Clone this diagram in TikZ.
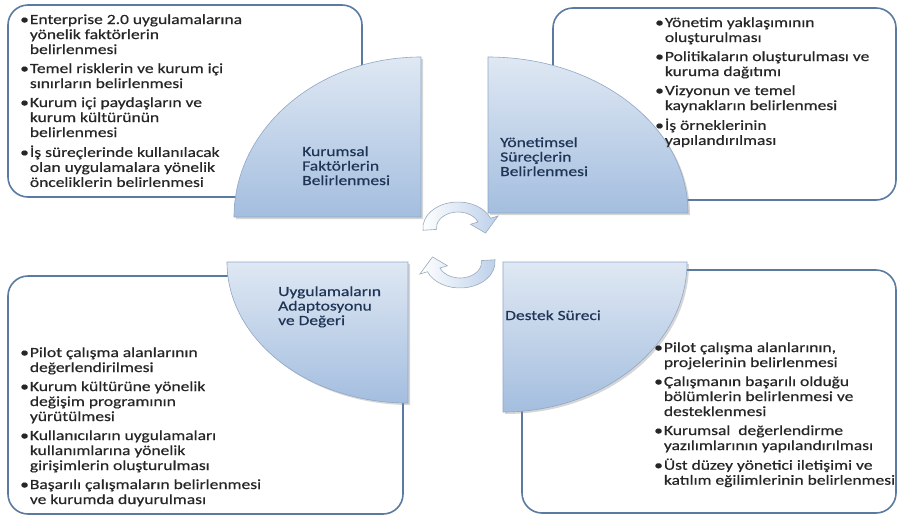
\documentclass[tikz,border=0pt]{standalone}
\usepackage{fontspec}
\setmainfont{Carlito}[FakeStretch=1.25,FakeBold=0.5]
\usetikzlibrary{shadows}
\definecolor{boxc}{HTML}{5A7AA2}
\definecolor{sectop}{HTML}{DFE8F3}
\definecolor{secbot}{HTML}{A4BEDF}
\definecolor{secb}{HTML}{8FA8C6}
\definecolor{txtc}{HTML}{262626}
\definecolor{stc}{HTML}{1F3556}
\definecolor{arrc}{HTML}{BCD0EA}
\definecolor{arrb}{HTML}{9AAABC}
\newcommand\bu{\textbullet}
\begin{document}
\begin{tikzpicture}[x=1pt,y=-1pt,
  box/.style={draw=boxc, line width=1.6pt, rounded corners=20pt, fill=white},
  sector/.style={draw=secb, line width=0.6pt, top color=sectop, bottom color=secbot,
    drop shadow={shadow xshift=2pt, shadow yshift=-2pt, opacity=0.35, fill=black!45}},
  btxt/.style={anchor=base west, inner sep=0pt, text=txtc, font=\fontsize{14}{15}\selectfont},
  stxt/.style={anchor=base west, inner sep=0pt, text=stc, align=left, font=\fontsize{14}{14.5}\selectfont},
  carrow/.style={draw=arrb, line width=0.6pt, left color=white, right color=arrc}]
\useasboundingbox (0,0) rectangle (899,517);
\fill[white] (0,0) rectangle (899,517);
% boxes
\draw[box] (8,5) rectangle (362,197);
\draw[box] (553,8) rectangle (896,200);
\draw[box] (8,276) rectangle (403,514);
\draw[box] (522,270) rectangle (896,513);
% sectors
\path[sector] (421,217) -- (234,217) arc[start angle=180, end angle=270, x radius=187, y radius=160] -- cycle;
\path[sector] (488,213) -- (488,57) arc[start angle=270, end angle=360, x radius=200, y radius=156] -- cycle;
\path[sector] (408,262) -- (227,262) arc[start angle=180, end angle=90, x radius=181, y radius=141] -- cycle;
\path[sector] (503,262) -- (687,262) arc[start angle=0, end angle=90, x radius=184, y radius=150] -- cycle;
% cycle arrows
\begin{scope}[shift={(458,228)}, xscale=1.35]
\path[carrow] (175:26) arc[start angle=175, end angle=338, radius=26] -- (338:32) -- (14:21) -- (338:10) -- (338:16) arc[start angle=338, end angle=175, radius=16] -- cycle;
\end{scope}
\begin{scope}[shift={(460,262)}, xscale=1.35, rotate=180]
\path[carrow] (175:26) arc[start angle=175, end angle=338, radius=26] -- (338:32) -- (14:21) -- (338:10) -- (338:16) arc[start angle=338, end angle=175, radius=16] -- cycle;
\end{scope}
% sector titles
\node[stxt] (s1) at (302,185) {Kurumsal\\Faktörlerin\\Belirlenmesi};
\node[stxt] (s2) at (500,176) {Yönetimsel\\Süreçlerin\\Belirlenmesi};
\node[stxt] (s3) at (278,325) {Uygulamaların\\Adaptosyonu\\ve Değeri};
\node[stxt] (s4) at (505,320) {Destek Süreci};
% bullet texts
\node[btxt] (t1) at (20,24) {\begin{tabular}[t]{@{}l@{\hspace{1pt}}l@{}}
\bu & Enterprise 2.0 uygulamalarına\\ & yönelik faktörlerin\\ & belirlenmesi\\[4pt]
\bu & Temel risklerin ve kurum içi\\ & sınırların belirlenmesi\\[4pt]
\bu & Kurum içi paydaşların ve\\ & kurum kültürünün\\ & belirlenmesi\\[4pt]
\bu & İş süreçlerinde kullanılacak\\ & olan uygulamalara yönelik\\ & önceliklerin belirlenmesi
\end{tabular}};
\node[btxt] (t2) at (655,27) {\begin{tabular}[t]{@{}l@{\hspace{1pt}}l@{}}
\bu & Yönetim yaklaşımının\\ & oluşturulması\\[4pt]
\bu & Politikaların oluşturulması ve\\ & kuruma dağıtımı\\[4pt]
\bu & Vizyonun ve temel\\ & kaynakların belirlenmesi\\[4pt]
\bu & İş örneklerinin\\ & yapılandırılması
\end{tabular}};
\node[btxt] (t3) at (20,357) {\begin{tabular}[t]{@{}l@{\hspace{1pt}}l@{}}
\bu & Pilot çalışma alanlarının\\ & değerlendirilmesi\\[4pt]
\bu & Kurum kültürüne yönelik\\ & değişim programının\\ & yürütülmesi\\[4pt]
\bu & Kullanıcıların uygulamaları\\ & kullanımlarına yönelik\\ & girişimlerin oluşturulması\\[4pt]
\bu & Başarılı çalışmaların belirlenmesi\\ & ve kurumda duyurulması
\end{tabular}};
\node[btxt] (t4) at (654,352) {\begin{tabular}[t]{@{}l@{\hspace{1pt}}l@{}}
\bu & Pilot çalışma alanlarının,\\ & projelerinin belirlenmesi\\[4pt]
\bu & Çalışmanın başarılı olduğu\\ & bölümlerin belirlenmesi ve\\ & desteklenmesi\\[4pt]
\bu & Kurumsal\ \ değerlendirme\\ & yazılımlarının yapılandırılması\\[4pt]
\bu & Üst düzey yönetici iletişimi ve\\ & katılım eğilimlerinin belirlenmesi
\end{tabular}};
\end{tikzpicture}
\end{document}
